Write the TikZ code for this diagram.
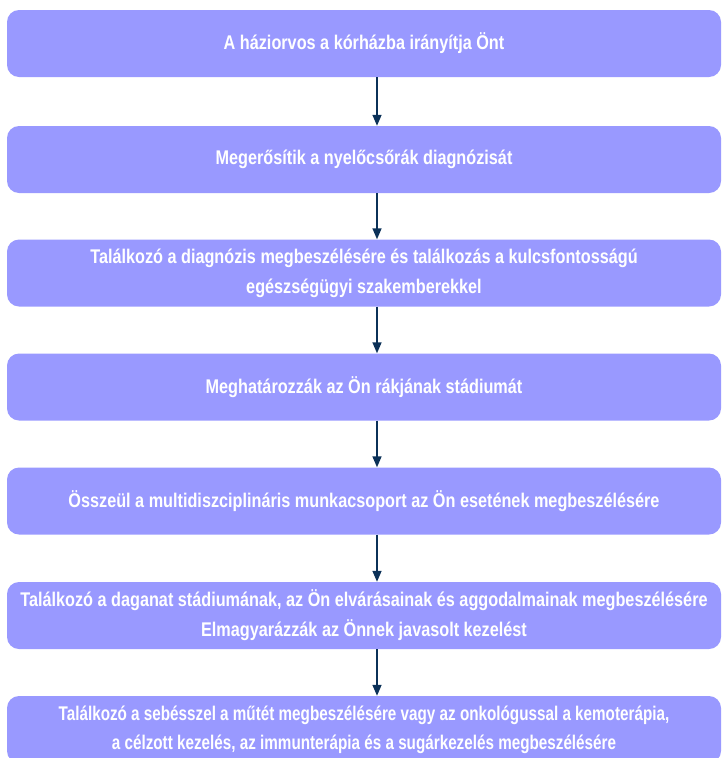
\documentclass[tikz,border=0pt]{standalone}
\usepackage{fontspec}
\setmainfont{Liberation Sans}[FakeStretch=0.82]
\newfontfamily\narrowfont{Liberation Sans}[FakeStretch=0.77]
\usetikzlibrary{arrows.meta}

\definecolor{boxblue}{HTML}{9999FF}
\definecolor{arrownavy}{HTML}{0B3158}

\tikzset{
    stepbox/.style={rectangle, rounded corners=12pt, fill=boxblue, text=white,
        font=\fontsize{19.8}{30}\selectfont\bfseries, align=center,
        minimum width=714pt, minimum height=67pt, inner sep=0pt},
    flow/.style={-{Triangle[length=11pt,width=9pt]}, line width=1.4pt, draw=arrownavy},
}

\begin{document}
\begin{tikzpicture}[x=1pt,y=-1pt]

        \clip (0,0) rectangle (722,758);

        % The steps, top to bottom
        \node[stepbox] (gp) at (364,43.5) {A háziorvos a kórházba irányítja Önt};
        \node[stepbox] (confirm) at (364,159.5) {Megerősítik a nyelőcsőrák diagnózisát};
        \node[stepbox] (meet) at (364,273) {Találkozó a diagnózis megbeszélésére és találkozás a kulcsfontosságú\\egészségügyi szakemberekkel};
        \node[stepbox] (stage) at (364,387) {Meghatározzák az Ön rákjának stádiumát};
        \node[stepbox] (team) at (364,501) {Összeül a multidiszciplináris munkacsoport az Ön esetének megbeszélésére};
        \node[stepbox] (plan) at (364,615.5) {Találkozó a daganat stádiumának, az Ön elvárásainak és aggodalmainak megbeszélésére\\Elmagyarázzák az Önnek javasolt kezelést};
        \node[stepbox, font=\fontsize{19.8}{29}\selectfont\narrowfont\bfseries] (treat) at (364,729.5) {Találkozó a sebésszel a műtét megbeszélésére vagy az onkológussal a kemoterápia,\\a célzott kezelés, az immunterápia és a sugárkezelés megbeszélésére};

        % Arrows between the steps, a bit right of the middle
        \draw[flow] ([xshift=13pt]gp.south) -- ([xshift=13pt]confirm.north);
        \draw[flow] ([xshift=13pt]confirm.south) -- ([xshift=13pt]meet.north);
        \draw[flow] ([xshift=13pt]meet.south) -- ([xshift=13pt]stage.north);
        \draw[flow] ([xshift=13pt]stage.south) -- ([xshift=13pt]team.north);
        \draw[flow] ([xshift=13pt]team.south) -- ([xshift=13pt]plan.north);
        \draw[flow] ([xshift=13pt]plan.south) -- ([xshift=13pt]treat.north);

\end{tikzpicture}
\end{document}
